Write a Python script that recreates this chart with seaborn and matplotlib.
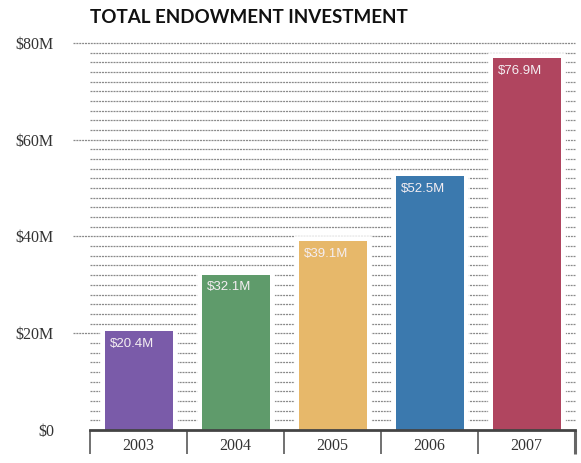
import matplotlib
matplotlib.use("Agg")
import matplotlib.pyplot as plt
import seaborn as sns
import pandas as pd
import numpy as np

# valores (millones de USD)
anios = ["2003", "2004", "2005", "2006", "2007"]
inversion = [20.4, 32.1, 39.1, 52.5, 76.9]
etiquetas = ["$20.4M", "$32.1M", "$39.1M", "$52.5M", "$76.9M"]
colores = ["#7a5ba9", "#5f9b6b", "#e7b86a", "#3b79ae", "#b0455f"]
y_ticks = [0, 20, 40, 60, 80]
y_labels = ["$0", "$20M", "$40M", "$60M", "$80M"]

df = pd.DataFrame({"anio": anios, "valor": inversion})

sns.set_style("white")
plt.rcParams["font.family"] = ["Liberation Sans", "DejaVu Sans"]

fig = plt.figure(figsize=(5.81, 4.63), dpi=100)
ax = fig.add_axes([0.155, 0.0713, 0.835, 0.836])

# rayado horizontal fino cada $2M
for v in np.arange(2, 81, 2):
    x0 = -0.035 if v % 20 == 0 else 0
    ax.hlines(v, x0, 1, transform=ax.get_yaxis_transform(), clip_on=False,
              color="#8a8a8a", lw=0.9, linestyles=(0, (1.6, 0.7)), zorder=1)

# halo blanco detras de cada barra
sns.barplot(data=df, x="anio", y="valor", hue="anio", palette=colores, legend=False,
            width=0.7, edgecolor="white", linewidth=7, saturation=1, ax=ax, zorder=2)
sns.barplot(data=df, x="anio", y="valor", hue="anio", palette=colores, legend=False,
            width=0.7, linewidth=0, saturation=1, ax=ax, zorder=3)

for i, (v, lab) in enumerate(zip(inversion, etiquetas)):
    ax.text(i - 0.30, v - 1.4, lab, color="#f4eef2", fontsize=9.5,
            ha="left", va="top", zorder=4)

ax.set_ylim(0, 80)
ax.set_xlim(-0.5, 4.5)
ax.set_yticks(y_ticks)
ax.set_yticklabels(y_labels, fontsize=11.5, color="#333333",
                   family=["Liberation Serif", "DejaVu Serif"])
ax.tick_params(axis="y", length=0, pad=26)
ax.set_xticks(range(len(anios)))
ax.set_xticklabels(anios, fontsize=11.5, color="#333333",
                   family=["Liberation Serif", "DejaVu Serif"])
ax.tick_params(axis="x", which="major", bottom=False, length=0, pad=6)
ax.set_xticks(np.arange(-0.5, 4.6, 1), minor=True)
ax.tick_params(axis="x", which="minor", bottom=True, length=17, width=1.3,
               color="#666666", direction="out")
ultimo = ax.xaxis.get_minor_ticks()[-1]
ultimo.tick1line.set_color("black")
ultimo.tick1line.set_markeredgewidth(2.2)
ax.set_xlabel("")
ax.set_ylabel("")

for s in ["top", "right", "left"]:
    ax.spines[s].set_visible(False)
ax.spines["bottom"].set_color("#444444")
ax.spines["bottom"].set_linewidth(2)
ax.spines["bottom"].set_zorder(5)

fig.text(0.155, 0.962, "TOTAL ENDOWMENT INVESTMENT", fontsize=13.5, fontweight="bold",
         family=["Lato", "DejaVu Sans"], color="#111111", ha="left", va="center")

fig.savefig("out.png", dpi=100)
